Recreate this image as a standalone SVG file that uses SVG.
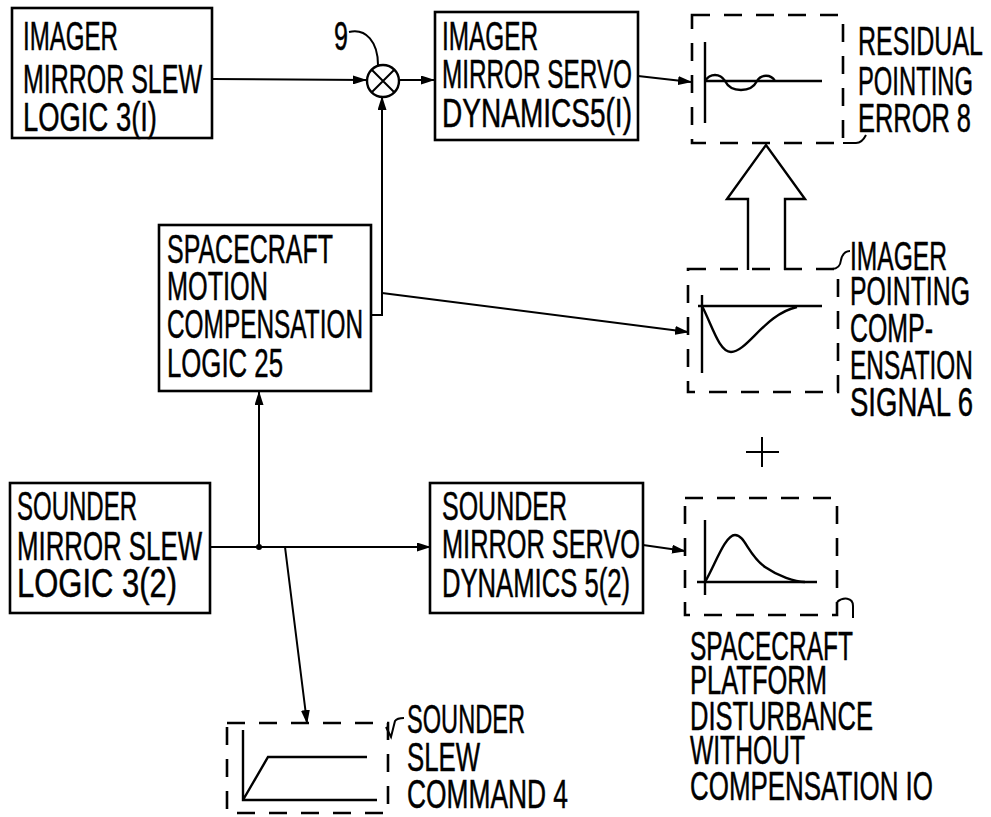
<svg xmlns="http://www.w3.org/2000/svg" width="991" height="817" viewBox="0 0 991 817">
<defs>
<marker id="ah" markerUnits="userSpaceOnUse" markerWidth="14" markerHeight="9" refX="13" refY="4.5" orient="auto">
<path d="M0,0 L14,4.5 L0,9 z" fill="#000"/>
</marker>
<style>
.box{fill:#fff;stroke:#000;stroke-width:2.6}
.dash{fill:none;stroke:#000;stroke-width:2.6;stroke-dasharray:18 14}
.ln{fill:none;stroke:#000;stroke-width:2}
.pl{fill:none;stroke:#000;stroke-width:2.4}
.t{font-family:"Liberation Sans",Arial,sans-serif;font-size:40px;fill:#000;stroke:#000;stroke-width:0.5}
</style>
</defs>
<rect width="991" height="817" fill="#fff"/>

<g id="connectors">
<path class="ln" d="M212,79 L366,80" marker-end="url(#ah)"/>
<path class="ln" d="M399,80 L434,80" marker-end="url(#ah)"/>
<path class="ln" d="M638,76 L691,82" marker-end="url(#ah)"/>
<path class="ln" d="M371,315 L382,315 L382,97" marker-end="url(#ah)"/>
<path class="ln" d="M382,293 L688,332" marker-end="url(#ah)"/>
<path class="ln" d="M210,547 L430,547" marker-end="url(#ah)"/>
<path class="ln" d="M259,547 L259,392" marker-end="url(#ah)"/>
<circle cx="259" cy="547" r="3" fill="#000"/>
<path class="ln" d="M285,547 L307,723" marker-end="url(#ah)"/>
<path class="ln" d="M643,545 L685,551" marker-end="url(#ah)"/>
<path d="M748,270 L748,199 L727,199 L766,145 L805,199 L785,199 L785,270" fill="#fff" stroke="#000" stroke-width="2.4"/>
</g>

<g id="imager-slew-logic">
<rect class="box" x="12" y="8" width="200" height="130"/>
<text class="t" transform="translate(23 50) scale(0.63 1)" textLength="150.8" lengthAdjust="spacingAndGlyphs">IMAGER</text>
<text class="t" transform="translate(23 93) scale(0.63 1)" textLength="284.1" lengthAdjust="spacingAndGlyphs">MIRROR SLEW</text>
<text class="t" transform="translate(23 131) scale(0.63 1)" textLength="212.7" lengthAdjust="spacingAndGlyphs">LOGIC  3(I)</text>
</g>

<g id="summing-junction-9">
<circle cx="383" cy="81" r="16" fill="#fff" stroke="#000" stroke-width="2.4"/>
<path class="ln" d="M372,70 L394,92 M394,70 L372,92"/>
<text class="t" transform="translate(334 50) scale(0.63 1)" textLength="22.2" lengthAdjust="spacingAndGlyphs">9</text>
<path class="ln" d="M349,32 C366,28 378,42 378,65"/>
</g>

<g id="imager-servo-dynamics">
<rect class="box" x="435" y="12" width="203" height="128"/>
<text class="t" transform="translate(442 50) scale(0.63 1)" textLength="152.4" lengthAdjust="spacingAndGlyphs">IMAGER</text>
<text class="t" transform="translate(442 88) scale(0.63 1)" textLength="301.6" lengthAdjust="spacingAndGlyphs">MIRROR SERVO</text>
<text class="t" transform="translate(442 127) scale(0.63 1)" textLength="301.6" lengthAdjust="spacingAndGlyphs">DYNAMICS5(I)</text>
</g>

<g id="residual-pointing-error-8">
<rect class="dash" x="692" y="15" width="151" height="128"/>
<path class="pl" d="M705,42 V123 M705,81 H822"/>
<path class="pl" d="M705,81 C710,73 720,73 725,81 C731,93 751,93 757,81 C761,74 771,74 775,81"/>
<text class="t" transform="translate(858 55) scale(0.63 1)" textLength="198.4" lengthAdjust="spacingAndGlyphs">RESIDUAL</text>
<text class="t" transform="translate(858 95) scale(0.63 1)" textLength="182.5" lengthAdjust="spacingAndGlyphs">POINTING</text>
<text class="t" transform="translate(858 132) scale(0.63 1)" textLength="179.4" lengthAdjust="spacingAndGlyphs">ERROR 8</text>
<path class="ln" d="M843,143 H856 Q862,143 866,135"/>
</g>

<g id="spacecraft-motion-compensation-logic">
<rect class="box" x="159" y="225" width="212" height="166"/>
<text class="t" transform="translate(167 263) scale(0.63 1)" textLength="263.5" lengthAdjust="spacingAndGlyphs">SPACECRAFT</text>
<text class="t" transform="translate(167 300) scale(0.63 1)" textLength="160.3" lengthAdjust="spacingAndGlyphs">MOTION</text>
<text class="t" transform="translate(167 338) scale(0.63 1)" textLength="311.1" lengthAdjust="spacingAndGlyphs">COMPENSATION</text>
<text class="t" transform="translate(167 377) scale(0.63 1)" textLength="184.1" lengthAdjust="spacingAndGlyphs">LOGIC 25</text>
</g>

<g id="imager-pointing-compensation-signal-6">
<rect class="dash" x="688" y="269" width="150" height="123"/>
<path class="pl" d="M702,295 V373 M698,306 H822"/>
<path class="pl" d="M702,306 C712,325 719,352 731,352 C747,352 765,314 797,307"/>
<path class="ln" d="M832,269 Q840,269 841,260 Q843,251 850,251"/>
<text class="t" transform="translate(850 270) scale(0.63 1)" textLength="154" lengthAdjust="spacingAndGlyphs">IMAGER</text>
<text class="t" transform="translate(850 305) scale(0.63 1)" textLength="190.5" lengthAdjust="spacingAndGlyphs">POINTING</text>
<text class="t" transform="translate(850 342) scale(0.63 1)" textLength="131.7" lengthAdjust="spacingAndGlyphs">COMP-</text>
<text class="t" transform="translate(850 379) scale(0.63 1)" textLength="195.2" lengthAdjust="spacingAndGlyphs">ENSATION</text>
<text class="t" transform="translate(850 416) scale(0.63 1)" textLength="195.2" lengthAdjust="spacingAndGlyphs">SIGNAL 6</text>
</g>

<g id="plus-sign">
<path class="ln" d="M746,452 H779 M762,437 V467"/>
</g>

<g id="sounder-slew-logic">
<rect class="box" x="10" y="483" width="200" height="130"/>
<text class="t" transform="translate(17 520) scale(0.63 1)" textLength="190.5" lengthAdjust="spacingAndGlyphs">SOUNDER</text>
<text class="t" transform="translate(17 560) scale(0.63 1)" textLength="293.7" lengthAdjust="spacingAndGlyphs">MIRROR SLEW</text>
<text class="t" transform="translate(17 597) scale(0.63 1)" textLength="254" lengthAdjust="spacingAndGlyphs">LOGIC  3(2)</text>
</g>

<g id="sounder-servo-dynamics">
<rect class="box" x="430" y="483" width="213" height="130"/>
<text class="t" transform="translate(442 520) scale(0.63 1)" textLength="198.4" lengthAdjust="spacingAndGlyphs">SOUNDER</text>
<text class="t" transform="translate(442 558) scale(0.63 1)" textLength="314.3" lengthAdjust="spacingAndGlyphs">MIRROR SERVO</text>
<text class="t" transform="translate(442 597) scale(0.63 1)" textLength="298.4" lengthAdjust="spacingAndGlyphs">DYNAMICS 5(2)</text>
</g>

<g id="platform-disturbance-10">
<rect class="dash" x="685" y="498" width="152" height="117"/>
<path class="pl" d="M705,520 V595 M697,582 H817"/>
<path class="pl" d="M705,582 C715,565 725,535 735,535 C745,535 748,555 765,567 C778,576 795,582 805,582"/>
<path class="ln" d="M837,602 C843,597 853,597 853,606 V618"/>
<text class="t" transform="translate(690 660) scale(0.63 1)" textLength="258.7" lengthAdjust="spacingAndGlyphs">SPACECRAFT</text>
<text class="t" transform="translate(690 694) scale(0.63 1)" textLength="217.5" lengthAdjust="spacingAndGlyphs">PLATFORM</text>
<text class="t" transform="translate(690 730) scale(0.63 1)" textLength="290.5" lengthAdjust="spacingAndGlyphs">DISTURBANCE</text>
<text class="t" transform="translate(690 764) scale(0.63 1)" textLength="182.5" lengthAdjust="spacingAndGlyphs">WITHOUT</text>
<text class="t" transform="translate(690 800) scale(0.63 1)" textLength="385.7" lengthAdjust="spacingAndGlyphs">COMPENSATION IO</text>
</g>

<g id="sounder-slew-command-4">
<rect class="dash" x="227" y="723" width="161" height="90"/>
<path class="pl" d="M243,730 V800 H377 M243,800 L268,757 H367"/>
<path class="ln" d="M386,727 L391,737 L395,721 Q397,718 404,718"/>
<text class="t" transform="translate(407 733) scale(0.63 1)" textLength="187.3" lengthAdjust="spacingAndGlyphs">SOUNDER</text>
<text class="t" transform="translate(407 771) scale(0.63 1)" textLength="115.9" lengthAdjust="spacingAndGlyphs">SLEW</text>
<text class="t" transform="translate(407 808) scale(0.63 1)" textLength="255.6" lengthAdjust="spacingAndGlyphs">COMMAND 4</text>
</g>
</svg>
